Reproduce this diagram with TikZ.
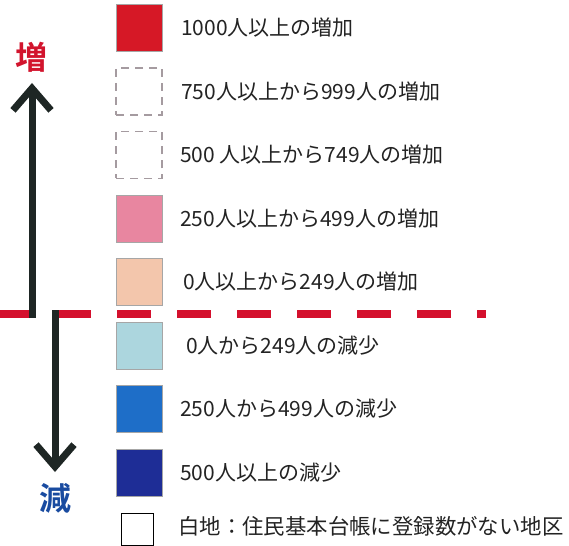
\documentclass[tikz,border=0pt]{standalone}
\usepackage{fontspec}
\newfontfamily\jp{Noto Sans CJK JP}
\newfontfamily\jpbold{Noto Sans CJK JP Bold}
\usetikzlibrary{arrows.meta}
\definecolor{cRed}{RGB}{214,24,38}
\definecolor{cPink}{RGB}{232,134,160}
\definecolor{cPeach}{RGB}{243,198,172}
\definecolor{cLBlue}{RGB}{172,214,222}
\definecolor{cBlue}{RGB}{30,110,200}
\definecolor{cDBlue}{RGB}{30,45,150}
\definecolor{cDash}{RGB}{165,155,160}
\definecolor{cLine}{RGB}{212,16,45}
\definecolor{cArrow}{RGB}{30,38,36}
\definecolor{cText}{RGB}{35,35,35}
\definecolor{cZou}{RGB}{210,20,45}
\definecolor{cGen}{RGB}{25,75,160}
\tikzset{
  swatch/.style={minimum width=46pt, minimum height=47pt, inner sep=0pt, outer sep=0pt, draw=black!35, line width=0.8pt, fill=#1},
  emptyswatch/.style={minimum width=46pt, minimum height=47pt, inner sep=0pt, outer sep=0pt, draw=cDash, line width=1.2pt, dash pattern=on 8pt off 6pt},
  lbl/.style={anchor=west, inner sep=0pt, font=\jp\fontsize{21}{21}\selectfont, text=cText},
  bigword/.style={inner sep=0pt, font=\jpbold\fontsize{32}{32}\selectfont},
  arr/.style={draw=cArrow, line width=7pt, -{Straight Barb[length=22pt, width=38pt]}},
  sepline/.style={draw=cLine, line width=8pt, dash pattern=on 34pt off 26pt}
}
\begin{document}
\begin{tikzpicture}[x=1pt, y=-1pt]
\useasboundingbox (0,0) rectangle (569,545);
% separator
\coordinate (sepL) at (-3,314);
\coordinate (sepR) at (486,314);
\draw[sepline] (sepL) -- (sepR);
% swatches
\node[swatch=cRed]   (s1) at (139,27.5) {};
\node[emptyswatch]   (s2) at (139,91.5) {};
\node[emptyswatch]   (s3) at (139,155) {};
\node[swatch=cPink]  (s4) at (139,218.5) {};
\node[swatch=cPeach] (s5) at (139,282) {};
\node[swatch=cLBlue] (s6) at (139,346) {};
\node[swatch=cBlue]  (s7) at (139,409) {};
\node[swatch=cDBlue] (s8) at (139,473) {};
\node[draw=black, line width=1pt, minimum size=32pt, inner sep=0pt] (s9) at (137,529) {};
% labels
\node[lbl] (t1) at (181,27.5) {1000人以上の増加};
\node[lbl] (t2) at (181,91.5) {750人以上から999人の増加};
\node[lbl] (t3) at (180,155) {500 人以上から749人の増加};
\node[lbl] (t4) at (180,218.5) {250人以上から499人の増加};
\node[lbl] (t5) at (183,282) {0人以上から249人の増加};
\node[lbl] (t6) at (186,346) {0人から249人の減少};
\node[lbl] (t7) at (180,409) {250人から499人の減少};
\node[lbl] (t8) at (180,473) {500人以上の減少};
\node[lbl, font=\jp\fontsize{21.4}{21.4}\selectfont] (t9) at (178,526) {白地：住民基本台帳に登録数がない地区};
% arrows
\node[bigword, text=cZou] (zou) at (32,57) {増};
\node[bigword, text=cGen] (gen) at (55,498) {減};
\coordinate (upBot) at (32,318);
\coordinate (upTip) at (32,83);
\coordinate (dnTop) at (55,310);
\coordinate (dnTip) at (55,472);
\draw[arr] (upBot) -- (upTip);
\draw[arr] (dnTop) -- (dnTip);
\end{tikzpicture}
\end{document}
